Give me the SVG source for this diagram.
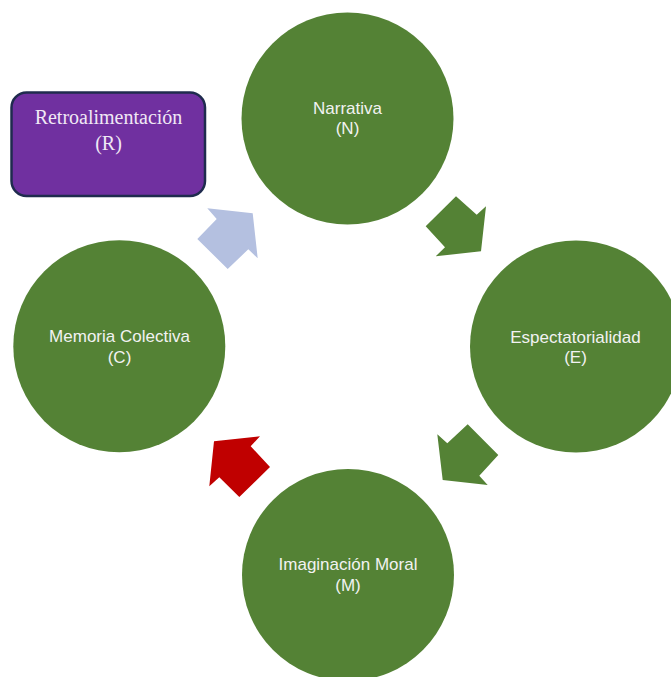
<svg xmlns="http://www.w3.org/2000/svg" width="671" height="677" viewBox="0 0 671 677">
<style>
.node{fill:#548235}
.lbl{font-family:"Liberation Sans",Arial,sans-serif;font-size:17px;fill:#F2F2F2;text-anchor:middle}
.box{fill:#7030A0;stroke:#1F2B4E;stroke-width:2.5}
.boxlbl{font-family:"Liberation Serif","Times New Roman",serif;font-size:20px;fill:#F0E8F5;text-anchor:middle}
</style>
<rect width="671" height="677" fill="#ffffff"/>
<g id="connectors">
<polygon id="arrow-C-N" fill="#B4C0E0" points="207.3,208.3 252.7,213.3 257.7,258.3 248.3,249.3 227.7,269 197.3,239 216.7,219"/>
<polygon id="arrow-N-E" fill="#548235" points="456,196.3 476.7,214.7 486,206.3 481,251.3 435.7,256.3 445,247.3 425.7,226.3"/>
<polygon id="arrow-E-M" fill="#548235" points="467.7,424.3 498.3,455 479.3,475.7 487.7,485 442.7,480 437.3,434.3 447.3,443.3"/>
<polygon id="arrow-M-C" fill="#C00000" points="214,441.3 260,436.3 250.7,446.3 270,467 239.3,497 219.3,477.3 209.3,486.3"/>
</g>
<g id="node-R">
<rect class="box" x="11.5" y="92.5" width="193.5" height="103.5" rx="15" ry="15"/>
<text class="boxlbl" x="108.5" y="124">Retroalimentación</text>
<text class="boxlbl" x="108.5" y="150">(R)</text>
</g>
<g id="node-N">
<circle class="node" cx="347.5" cy="118.5" r="106"/>
<text class="lbl" x="347.5" y="113.5">Narrativa</text>
<text class="lbl" x="347.5" y="134">(N)</text>
</g>
<g id="node-E">
<circle class="node" cx="576" cy="346.5" r="106"/>
<text class="lbl" x="575.5" y="342.5">Espectatorialidad</text>
<text class="lbl" x="575.5" y="362.5">(E)</text>
</g>
<g id="node-M">
<circle class="node" cx="348" cy="575" r="106"/>
<text class="lbl" x="348" y="570">Imaginación Moral</text>
<text class="lbl" x="348" y="590.5">(M)</text>
</g>
<g id="node-C">
<circle class="node" cx="119.3" cy="346.2" r="106"/>
<text class="lbl" x="119.5" y="342">Memoria Colectiva</text>
<text class="lbl" x="119.5" y="362.5">(C)</text>
</g>
</svg>
